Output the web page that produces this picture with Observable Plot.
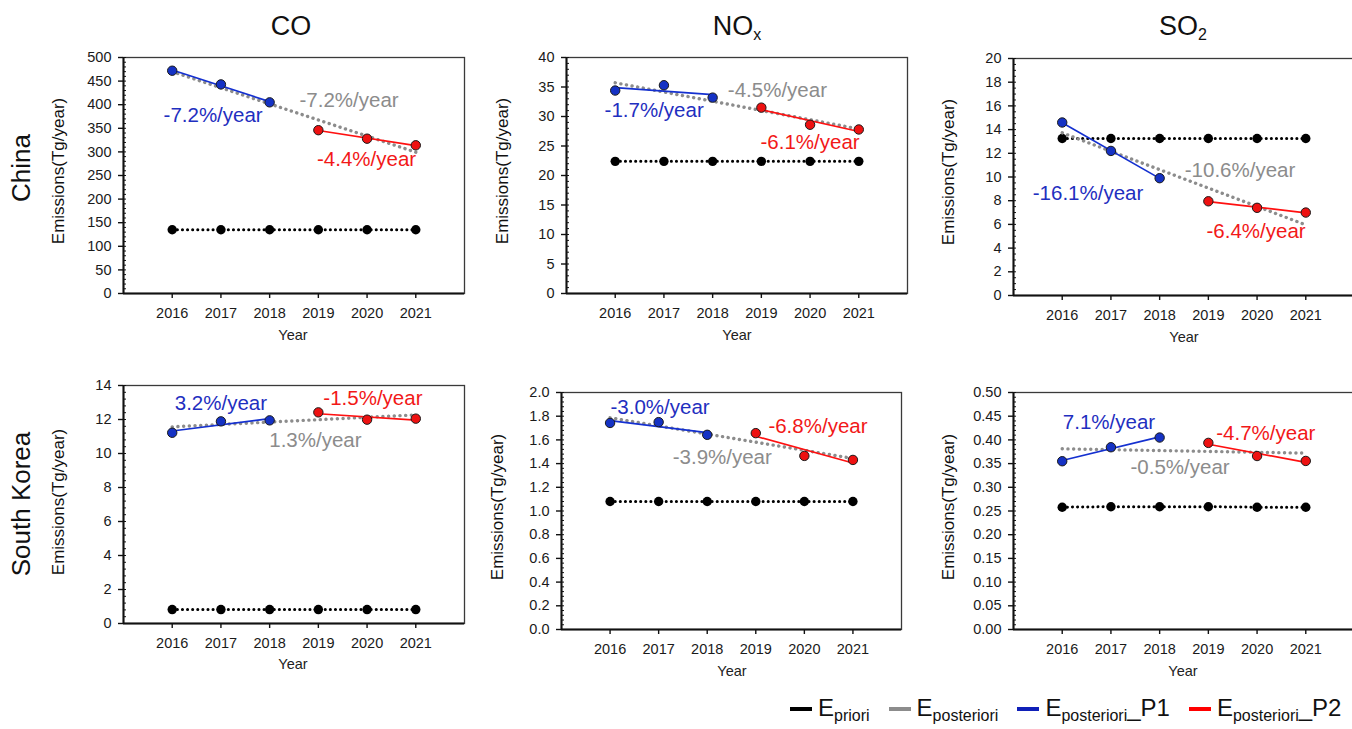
<!DOCTYPE html>
<html><head><meta charset="utf-8">
<script src="https://cdn.jsdelivr.net/npm/d3@7"></script>
<script src="https://cdn.jsdelivr.net/npm/@observablehq/plot@0.6"></script>
<style>
body{margin:0;background:#fff;font-family:"Liberation Sans",Arial,sans-serif;}
#root{position:relative;width:1352px;height:729px;overflow:hidden;background:#fff}
.abs{position:absolute;white-space:nowrap;color:#111;line-height:1}
.rot{transform:translate(-50%,-50%) rotate(-90deg)}
.ctr{transform:translate(-50%,-50%)}
.title{font-size:27px}
.title sub{font-size:16px;vertical-align:-5px;line-height:0}
.row{font-size:26px}
.ylab{font-size:17px}
.xlab{font-size:14.5px;color:#222}
svg{position:absolute}
#legend{position:absolute;left:790px;top:696px;display:flex;align-items:center;font-size:24px;line-height:1;color:#111;white-space:nowrap}
#legend .item{display:flex;align-items:center;margin-right:19px}
#legend .item:last-child{margin-right:0}
#legend .sw{display:inline-block;width:22px;height:4px;margin-right:6px;margin-top:2px}
#legend sub{font-size:16px;vertical-align:-5px;line-height:0}
</style></head><body><div id="root"></div><script>
// ---------- data ----------
const years = [2016, 2017, 2018, 2019, 2020, 2021];
const yearsP1 = [2016, 2017, 2018];
const yearsP2 = [2019, 2020, 2021];
const species = ["CO", "NOx", "SO2"];
const regions = ["China", "South Korea"];
const legendLabels = ["priori", "posteriori", "posteriori_P1", "posteriori_P2"];

// China
const prioriChinaCO = [135, 135, 135, 135, 135, 135];
const p1ChinaCO = [472, 443, 405];
const p2ChinaCO = [346, 328, 314];
const ratesChinaCO = ["-7.2%/year", "-7.2%/year", "-4.4%/year"]; // P1, all, P2

const prioriChinaNOx = [22.4, 22.4, 22.4, 22.4, 22.4, 22.4];
const p1ChinaNOx = [34.4, 35.3, 33.2];
const p2ChinaNOx = [31.5, 28.6, 27.8];
const ratesChinaNOx = ["-1.7%/year", "-4.5%/year", "-6.1%/year"];

const prioriChinaSO2 = [13.25, 13.25, 13.25, 13.25, 13.25, 13.25];
const p1ChinaSO2 = [14.6, 12.2, 9.9];
const p2ChinaSO2 = [7.95, 7.4, 7.0];
const ratesChinaSO2 = ["-16.1%/year", "-10.6%/year", "-6.4%/year"];

// South Korea
const prioriKoreaCO = [0.82, 0.82, 0.82, 0.82, 0.82, 0.82];
const p1KoreaCO = [11.22, 11.89, 11.95];
const p2KoreaCO = [12.42, 11.99, 12.05];
const ratesKoreaCO = ["3.2%/year", "1.3%/year", "-1.5%/year"];

const prioriKoreaNOx = [1.08, 1.08, 1.08, 1.08, 1.08, 1.08];
const p1KoreaNOx = [1.743, 1.75, 1.643];
const p2KoreaNOx = [1.657, 1.465, 1.431];
const ratesKoreaNOx = ["-3.0%/year", "-3.9%/year", "-6.8%/year"];

const prioriKoreaSO2 = [0.258, 0.259, 0.259, 0.259, 0.258, 0.258];
const p1KoreaSO2 = [0.355, 0.3845, 0.405];
const p2KoreaSO2 = [0.3937, 0.366, 0.3556];
const ratesKoreaSO2 = ["7.1%/year", "-0.5%/year", "-4.7%/year"];

// y tick labels
const yTicksCO_China = [0, 50, 100, 150, 200, 250, 300, 350, 400, 450, 500];
const yTicksNOx_China = [0, 5, 10, 15, 20, 25, 30, 35, 40];
const yTicksSO2_China = [0, 2, 4, 6, 8, 10, 12, 14, 16, 18, 20];
const yTicksCO_Korea = [0, 2, 4, 6, 8, 10, 12, 14];
const yTicksNOx_Korea = [0, 0.2, 0.4, 0.6, 0.8, 1.0, 1.2, 1.4, 1.6, 1.8, 2.0];
const yTicksSO2_Korea = [0, 0.05, 0.1, 0.15, 0.2, 0.25, 0.3, 0.35, 0.4, 0.45, 0.5];

// ---------- styling / layout ----------
const BLUE_LINE = "#1430d0", BLUE_FILL = "#1532c4", BLUE_TEXT = "#1f2fc0";
const RED_LINE = "#ff1010", RED_FILL = "#ee1111", RED_TEXT = "#f21818";
const GRAY = "#8c8c8c";

const panels = [
  {priori: prioriChinaCO, p1: p1ChinaCO, p2: p2ChinaCO, rates: ratesChinaCO, ticks: yTicksCO_China, minor: 10, fmt: d3.format("d"),
   box: {L: 123, T: 57, B: 293, R: 464}, lab: [[2016.84, 377], [2019.63, 409], [2019.99, 285]], ylab: [58, 171], xlab: [293, 335]},
  {priori: prioriChinaNOx, p1: p1ChinaNOx, p2: p2ChinaNOx, rates: ratesChinaNOx, ticks: yTicksNOx_China, minor: 1, fmt: d3.format("d"),
   box: {L: 566, T: 57, B: 293, R: 907}, lab: [[2016.80, 30.98], [2019.33, 34.5], [2020.0, 25.6]], ylab: [502, 171], xlab: [737, 335]},
  {priori: prioriChinaSO2, p1: p1ChinaSO2, p2: p2ChinaSO2, rates: ratesChinaSO2, ticks: yTicksSO2_China, minor: 0.5, fmt: d3.format("d"),
   box: {L: 1013, T: 58, B: 295, R: 1354}, lab: [[2016.53, 8.65], [2019.65, 10.57], [2019.98, 5.41]], ylab: [948, 172], xlab: [1184, 337]},
  {priori: prioriKoreaCO, p1: p1KoreaCO, p2: p2KoreaCO, rates: ratesKoreaCO, ticks: yTicksCO_Korea, minor: 0.4, fmt: d3.format("d"),
   box: {L: 123, T: 385, B: 623, R: 464}, lab: [[2017.0, 12.96], [2018.94, 10.77], [2020.12, 13.26]], ylab: [58, 502], xlab: [293, 664]},
  {priori: prioriKoreaNOx, p1: p1KoreaNOx, p2: p2KoreaNOx, rates: ratesKoreaNOx, ticks: yTicksNOx_Korea, minor: 0.04, fmt: d3.format(".1f"),
   box: {L: 561, T: 392, B: 629, R: 901}, lab: [[2017.03, 1.878], [2018.31, 1.451], [2020.28, 1.71]], ylab: [497, 507], xlab: [732, 671]},
  {priori: prioriKoreaSO2, p1: p1KoreaSO2, p2: p2KoreaSO2, rates: ratesKoreaSO2, ticks: yTicksSO2_Korea, minor: 0.01, fmt: d3.format(".2f"),
   box: {L: 1013, T: 392, B: 629, R: 1354}, lab: [[2016.96, 0.4373], [2018.42, 0.342], [2020.18, 0.414]], ylab: [948, 507], xlab: [1183, 671]}
];

const root = document.getElementById("root");
function addDiv(cls, html, x, y) {
  const d = document.createElement("div");
  d.className = "abs " + cls;
  d.innerHTML = html;
  d.style.left = x + "px";
  d.style.top = y + "px";
  root.appendChild(d);
  return d;
}

function panel(cfg) {
  const {L, T, B, R} = cfg.box;
  const mL = 70, mT = 10, mR = 2, mB = 34;
  const width = R - L + mL + mR, height = B - T + mT + mB;
  const ticks = cfg.ticks;
  const y0 = ticks[0], y1 = ticks[ticks.length - 1];
  const minor = d3.range(0, Math.round((y1 - y0) / cfg.minor) + 1).map(i => y0 + i * cfg.minor);
  const pri = years.map((x, i) => ({x, y: cfg.priori[i]}));
  const p1 = yearsP1.map((x, i) => ({x, y: cfg.p1[i]}));
  const p2 = yearsP2.map((x, i) => ({x, y: cfg.p2[i]}));
  const post = [...p1, ...p2];
  const labs = cfg.lab.map(([x, y], i) => ({x, y, text: cfg.rates[i], c: [BLUE_TEXT, GRAY, RED_TEXT][i]}));
  const svg = Plot.plot({
    width, height, marginLeft: mL, marginTop: mT, marginRight: mR, marginBottom: mB,
    x: {domain: [2015, 2022], label: null},
    y: {domain: [y0, y1], label: null},
    style: {fontFamily: "Liberation Sans, Arial, sans-serif", fontSize: "14.5px", color: "#1a1a1a", background: "transparent", overflow: "visible"},
    marks: [
      Plot.frame({stroke: "#3a3a3a", strokeWidth: 1.3}),
      Plot.axisY({ticks: minor, tickSize: 3, dx: 3, tickFormat: () => "", stroke: "#111", label: null}),
      Plot.axisY({ticks, tickSize: 5, tickPadding: 7, tickFormat: cfg.fmt, stroke: "#111", strokeWidth: 1.4, fill: "#1a1a1a", label: null}),
      Plot.axisX({ticks: years, tickSize: 5, tickPadding: 9, tickFormat: d => String(d), stroke: "#111", strokeWidth: 1.4, fill: "#1a1a1a", label: null}),
      Plot.ruleX([2015], {stroke: "#111", strokeWidth: 2}),
      Plot.ruleY([y0], {stroke: "#111", strokeWidth: 2}),
      Plot.line(pri, {x: "x", y: "y", stroke: "#000", strokeWidth: 3, strokeDasharray: "0.1,5", strokeLinecap: "round"}),
      Plot.dot(pri, {x: "x", y: "y", r: 4.7, fill: "#000"}),
      Plot.linearRegressionY(post, {x: "x", y: "y", ci: 0, stroke: GRAY, strokeWidth: 3.4, strokeDasharray: "0.1,5.6", strokeLinecap: "round"}),
      Plot.linearRegressionY(p1, {x: "x", y: "y", ci: 0, stroke: BLUE_LINE, strokeWidth: 1.7}),
      Plot.linearRegressionY(p2, {x: "x", y: "y", ci: 0, stroke: RED_LINE, strokeWidth: 1.7}),
      Plot.dot(p1, {x: "x", y: "y", r: 4.7, fill: BLUE_FILL, stroke: "#1a1a1a", strokeWidth: 1}),
      Plot.dot(p2, {x: "x", y: "y", r: 4.7, fill: RED_FILL, stroke: "#1a1a1a", strokeWidth: 1}),
      Plot.text(labs, {x: "x", y: "y", text: "text", fill: "c", fontSize: 20.5, fontFamily: "Liberation Sans, Arial, sans-serif"})
    ]
  });
  svg.style.left = (L - mL) + "px";
  svg.style.top = (T - mT) + "px";
  root.appendChild(svg);
  addDiv("rot ylab", "Emissions(Tg/year)", cfg.ylab[0], cfg.ylab[1]);
  addDiv("ctr xlab", "Year", cfg.xlab[0], cfg.xlab[1]);
}
panels.forEach(panel);

// column titles
const titleHtml = {CO: "CO", NOx: "NO<sub>x</sub>", SO2: "SO<sub>2</sub>"};
const titleX = [291, 737, 1183];
species.forEach((s, i) => addDiv("ctr title", titleHtml[s], titleX[i], 26));
// row labels
const rowY = [168, 504];
regions.forEach((r, i) => addDiv("rot row", r, 21, rowY[i]));

// legend
const legendColors = ["#000", "#8c8c8c", "#1020b8", "#ff0000"];
const lg = document.createElement("div");
lg.id = "legend";
legendLabels.forEach((lab, i) => {
  const parts = lab.split("_");
  const tail = parts.length > 1 ? "_" + parts[1] : "";
  const it = document.createElement("div");
  it.className = "item";
  it.innerHTML = `<span class="sw" style="background:${legendColors[i]}"></span><span>E<sub>${parts[0]}</sub>${tail}</span>`;
  lg.appendChild(it);
});
root.appendChild(lg);
</script></body></html>
